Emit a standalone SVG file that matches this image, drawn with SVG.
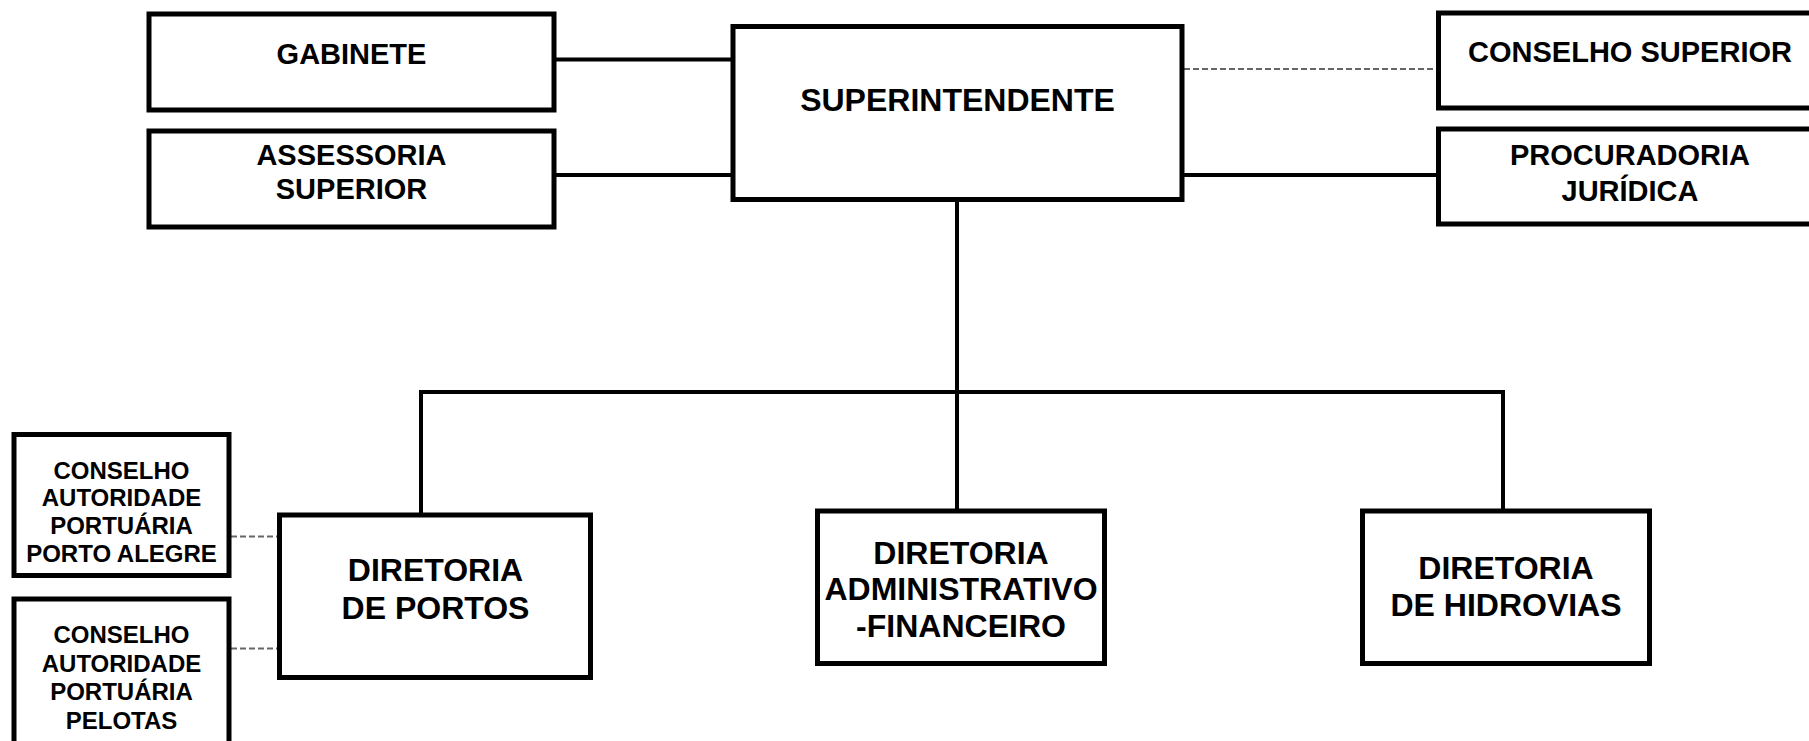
<svg xmlns="http://www.w3.org/2000/svg" width="1809" height="741" viewBox="0 0 1809 741">
<style>
.box{fill:#fff;stroke:#000;stroke-width:5}
.ln{stroke:#000;stroke-width:4;fill:none}
.dash{stroke:#666;stroke-width:2;stroke-dasharray:6 3;fill:none}
text{font-family:"Liberation Sans",Arial,sans-serif;font-weight:bold;fill:#000;text-anchor:middle}
.t29{font-size:29px}
.t32{font-size:32px}
.t24{font-size:24px}
</style>
<rect width="1809" height="741" fill="#fff"/>
<g id="connectors">
<line class="ln" x1="556" y1="59.5" x2="733" y2="59.5"/>
<line class="ln" x1="556" y1="175" x2="733" y2="175"/>
<line class="ln" x1="1183" y1="175" x2="1437" y2="175"/>
<line class="dash" x1="1184" y1="69" x2="1436" y2="69"/>
<line class="ln" x1="957" y1="200" x2="957" y2="509"/>
<polyline class="ln" points="421,513 421,392 1503,392 1503,509"/>
<line class="dash" x1="231" y1="536.5" x2="277" y2="536.5"/>
<line class="dash" x1="231" y1="648.5" x2="277" y2="648.5"/>
</g>
<g id="gabinete">
<rect class="box" x="149" y="14" width="405" height="96"/>
<text class="t29" x="351.5" y="64">GABINETE</text>
</g>
<g id="assessoria">
<rect class="box" x="149" y="131" width="405" height="96"/>
<text class="t29" x="351.5" y="164.5">ASSESSORIA</text>
<text class="t29" x="351.5" y="199">SUPERIOR</text>
</g>
<g id="superintendente">
<rect class="box" x="733" y="26.5" width="449" height="173"/>
<text class="t32" x="957.5" y="110.5">SUPERINTENDENTE</text>
</g>
<g id="conselho-superior">
<rect class="box" x="1438.5" y="13" width="420" height="95"/>
<text class="t29" x="1630" y="61.5">CONSELHO SUPERIOR</text>
</g>
<g id="procuradoria">
<rect class="box" x="1438.5" y="129" width="420" height="95"/>
<text class="t29" x="1630" y="165">PROCURADORIA</text>
<text class="t29" x="1630" y="200.5">JURÍDICA</text>
</g>
<g id="diretoria-portos">
<rect class="box" x="279.5" y="515" width="311" height="162.5"/>
<text class="t32" x="435.5" y="581">DIRETORIA</text>
<text class="t32" x="435.5" y="618.5">DE PORTOS</text>
</g>
<g id="diretoria-adm">
<rect class="box" x="817.5" y="511" width="287" height="152.5"/>
<text class="t32" x="961" y="563.5">DIRETORIA</text>
<text class="t32" x="961" y="600">ADMINISTRATIVO</text>
<text class="t32" x="961" y="636.5">-FINANCEIRO</text>
</g>
<g id="diretoria-hidrovias">
<rect class="box" x="1362.5" y="511" width="287" height="152.5"/>
<text class="t32" x="1506" y="579">DIRETORIA</text>
<text class="t32" x="1506" y="615.5">DE HIDROVIAS</text>
</g>
<g id="conselho-porto-alegre">
<rect class="box" x="14" y="434.5" width="215" height="141"/>
<text class="t24" x="121.5" y="478.5">CONSELHO</text>
<text class="t24" x="121.5" y="506">AUTORIDADE</text>
<text class="t24" x="121.5" y="534">PORTUÁRIA</text>
<text class="t24" x="121.5" y="562">PORTO ALEGRE</text>
</g>
<g id="conselho-pelotas">
<rect class="box" x="14" y="599" width="215" height="160"/>
<text class="t24" x="121.5" y="643">CONSELHO</text>
<text class="t24" x="121.5" y="671.5">AUTORIDADE</text>
<text class="t24" x="121.5" y="700">PORTUÁRIA</text>
<text class="t24" x="121.5" y="728.5">PELOTAS</text>
</g>
</svg>
